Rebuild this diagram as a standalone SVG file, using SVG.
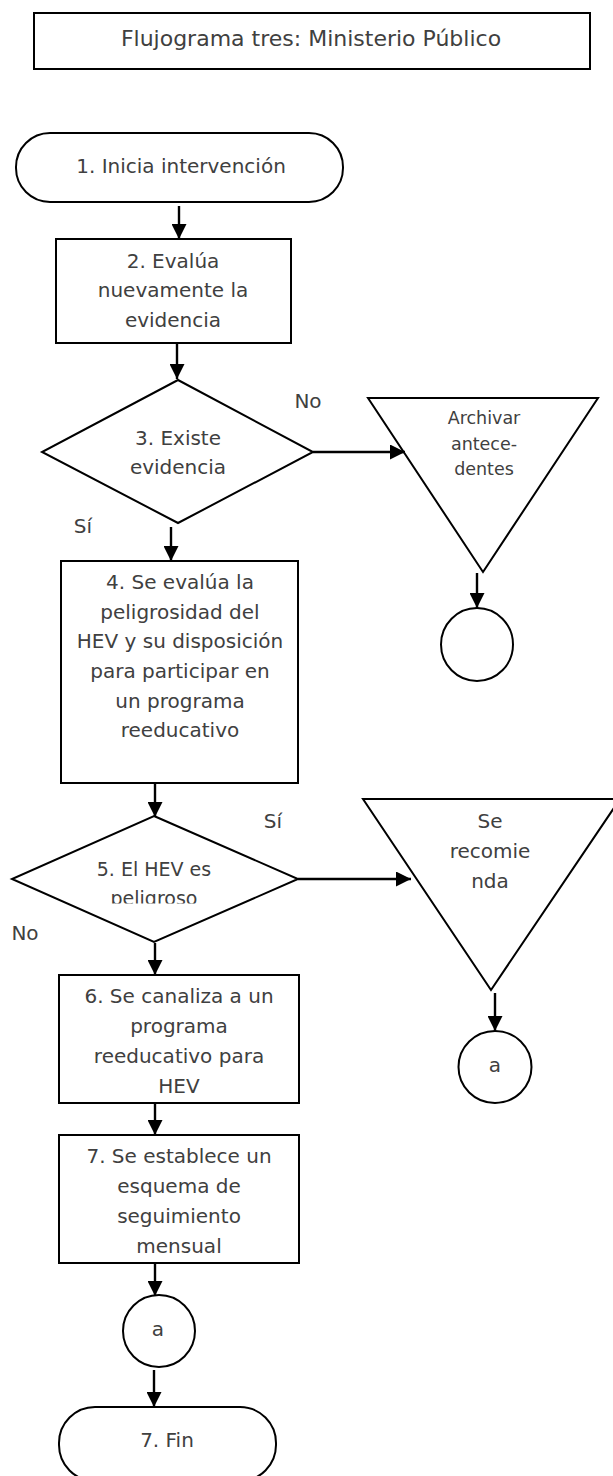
<svg xmlns="http://www.w3.org/2000/svg" width="613" height="1476" viewBox="0 0 613 1476">
<style>
.s{fill:#fff;stroke:#000;stroke-width:2}
.t{font-family:"DejaVu Sans","Liberation Sans",sans-serif;font-size:20px;fill:#404040;text-anchor:middle}
.sm{font-size:17.5px}
.c{stroke:#000;stroke-width:2.4;fill:none;marker-end:url(#ah)}
</style>
<defs>
<marker id="ah" markerUnits="userSpaceOnUse" markerWidth="15" markerHeight="15" refX="15" refY="7.5" orient="auto">
<path d="M0,0 L15,7.5 L0,15 z" fill="#000"/>
</marker>
<clipPath id="clip5"><rect x="60" y="850" width="190" height="53.5"/></clipPath>
</defs>
<rect width="613" height="1476" fill="#fff"/>

<g id="title">
<rect class="s" x="34" y="13" width="556" height="56"/>
<text class="t" x="311" y="46" style="font-size:22px">Flujograma tres: Ministerio Público</text>
</g>

<g id="n1">
<rect class="s" x="16" y="133" width="327" height="69" rx="34" ry="34"/>
<text class="t" x="181" y="173">1. Inicia intervención</text>
</g>

<g id="n2">
<rect class="s" x="56" y="239" width="235" height="104"/>
<text class="t" x="173" y="268">2. Evalúa</text>
<text class="t" x="173" y="297">nuevamente la</text>
<text class="t" x="173" y="327">evidencia</text>
</g>

<g id="n3">
<polygon class="s" points="178,380 313,452 178,523 42,452"/>
<text class="t" x="178" y="445">3. Existe</text>
<text class="t" x="178" y="474">evidencia</text>
</g>

<g id="archivar">
<polygon class="s" points="368,398 598,398 483,572"/>
<text class="t sm" x="484" y="424">Archivar</text>
<text class="t sm" x="484" y="450">antece-</text>
<text class="t sm" x="484" y="475">dentes</text>
</g>

<g id="conn1">
<ellipse class="s" cx="477" cy="644.5" rx="36" ry="36.5"/>
</g>

<g id="n4">
<rect class="s" x="61" y="561" width="237" height="222"/>
<text class="t" x="180" y="589">4. Se evalúa la</text>
<text class="t" x="180" y="619">peligrosidad del</text>
<text class="t" x="180" y="648">HEV y su disposición</text>
<text class="t" x="180" y="678">para participar en</text>
<text class="t" x="180" y="708">un programa</text>
<text class="t" x="180" y="737">reeducativo</text>
</g>

<g id="n5">
<polygon class="s" points="154,816 298,879 154,942 12,879"/>
<g clip-path="url(#clip5)">
<text class="t" x="154" y="876" style="font-size:19px">5. El HEV es</text>
<text class="t" x="154" y="905" style="font-size:19px">peligroso</text>
</g>
</g>

<g id="recomienda">
<polygon class="s" points="363,799 620,799 491,990"/>
<text class="t" x="490" y="828">Se</text>
<text class="t" x="490" y="858">recomie</text>
<text class="t" x="490" y="888">nda</text>
</g>

<g id="conn2">
<ellipse class="s" cx="495" cy="1067" rx="36.5" ry="36"/>
<text class="t" x="495" y="1072">a</text>
</g>

<g id="n6">
<rect class="s" x="59" y="975" width="240" height="128"/>
<text class="t" x="179" y="1003">6. Se canaliza a un</text>
<text class="t" x="179" y="1033">programa</text>
<text class="t" x="179" y="1063">reeducativo para</text>
<text class="t" x="179" y="1093">HEV</text>
</g>

<g id="n7">
<rect class="s" x="59" y="1135" width="240" height="128"/>
<text class="t" x="179" y="1163">7. Se establece un</text>
<text class="t" x="179" y="1193">esquema de</text>
<text class="t" x="179" y="1223">seguimiento</text>
<text class="t" x="179" y="1253">mensual</text>
</g>

<g id="conn3">
<ellipse class="s" cx="159" cy="1331" rx="36" ry="36"/>
<text class="t" x="158" y="1336">a</text>
</g>

<g id="fin">
<rect class="s" x="59" y="1407" width="217" height="74" rx="36" ry="36"/>
<text class="t" x="167" y="1447">7. Fin</text>
</g>

<g id="labels">
<text class="t" x="308" y="408">No</text>
<text class="t" x="83" y="533">Sí</text>
<text class="t" x="273" y="828">Sí</text>
<text class="t" x="25" y="940">No</text>
</g>

<g id="connectors">
<line class="c" x1="179" y1="206" x2="179" y2="239"/>
<line class="c" x1="177" y1="343" x2="177" y2="379"/>
<line class="c" x1="313" y1="452" x2="405" y2="452"/>
<line class="c" x1="171" y1="527" x2="171" y2="561"/>
<line class="c" x1="477" y1="573" x2="477" y2="608"/>
<line class="c" x1="155" y1="783" x2="155" y2="817"/>
<line class="c" x1="298" y1="879" x2="411" y2="879"/>
<line class="c" x1="495" y1="993" x2="495" y2="1031"/>
<line class="c" x1="155" y1="943" x2="155" y2="975"/>
<line class="c" x1="155" y1="1103" x2="155" y2="1135"/>
<line class="c" x1="155" y1="1263" x2="155" y2="1296"/>
<line class="c" x1="154" y1="1370" x2="154" y2="1407"/>
</g>
</svg>
